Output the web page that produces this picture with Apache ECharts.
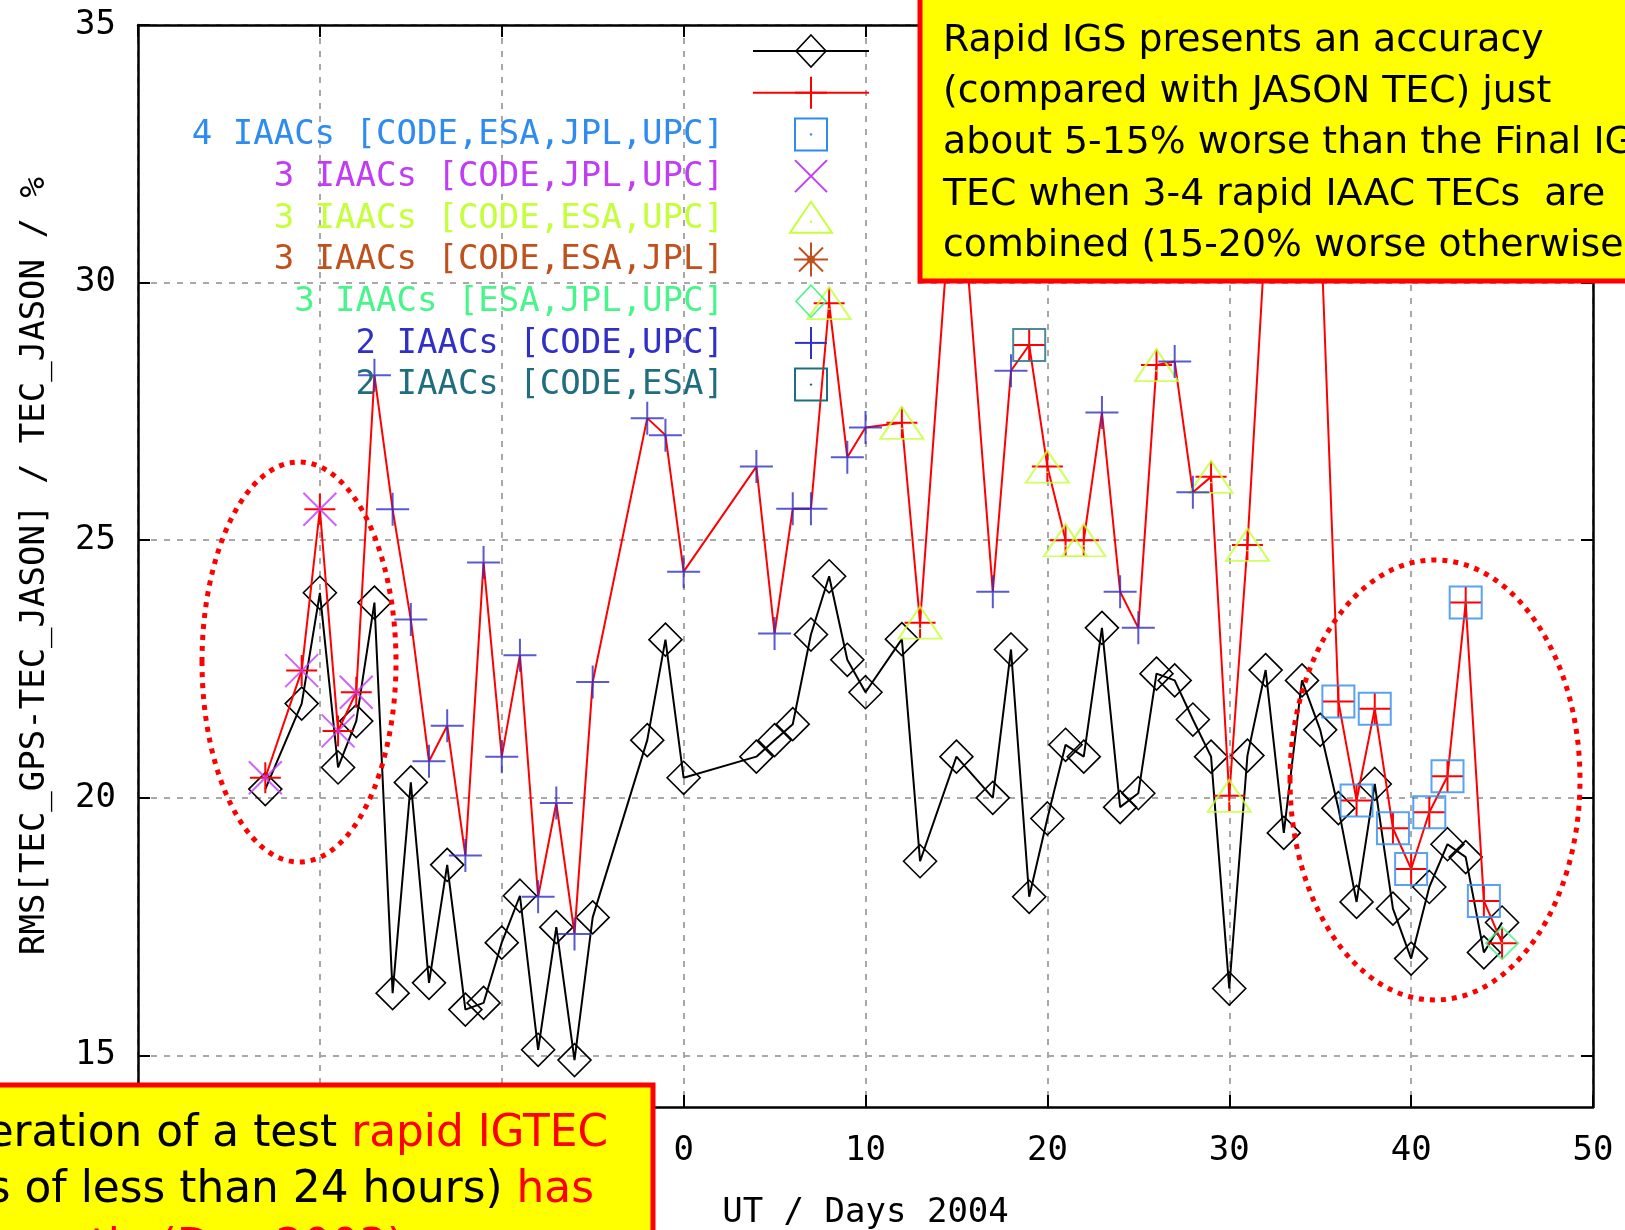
<!DOCTYPE html>
<html>
<head>
<meta charset="utf-8">
<script src="https://cdn.jsdelivr.net/npm/echarts@6/dist/echarts.min.js"></script>
<style>html,body{margin:0;padding:0;background:#fff;}#c{width:1625px;height:1230px;}</style>
</head>
<body>
<div id="c"></div>
<script>
// ---------------- data ----------------
const days = [-23,-21,-20,-19,-18,-17,-16,-15,-14,-13,-12,-11,-10,-9,-8,-7,-6,-5,-2,-1,0,
  4,5,6,7,8,9,10,12,13,15,17,18,19,20,21,22,23,24,25,26,27,28,29,30,31,32,33,34,35,
  36,37,38,39,40,41,42,43,44,45];
const finalTEC = [20.17,21.83,23.98,20.59,21.49,23.79,16.21,20.30,16.41,18.70,15.89,16.02,17.19,18.10,15.11,17.49,14.91,17.68,21.12,23.07,20.39,
  20.80,21.12,21.43,23.17,24.30,22.68,22.05,23.08,18.77,20.80,20.00,22.88,18.08,19.60,21.03,20.80,23.30,19.82,20.09,22.41,22.28,21.52,20.80,16.30,20.82,22.48,19.32,22.28,21.32,
  19.80,17.98,20.27,17.85,16.88,18.27,19.10,18.85,17.00,17.58];
const rapidTEC = [20.39,22.47,25.60,21.30,22.05,28.20,25.60,23.46,20.71,21.40,18.88,24.57,20.80,22.77,18.08,19.90,17.36,22.25,27.37,27.04,24.39,
  26.43,23.19,25.61,25.61,29.60,26.61,27.19,27.28,23.40,33.10,24.00,28.29,28.79,26.43,25.00,25.00,27.48,24.00,23.30,28.40,28.47,25.93,26.23,20.04,24.91,31.00,32.50,33.50,31.40,
  21.87,19.95,21.73,19.41,18.62,19.72,20.42,23.79,18.00,17.18];

// days on which the rapid map combined each set of IAACs
const days4All = [36,37,38,39,40,41,42,43,44];
const days3CodeJplUpc = [-23,-21,-20,-19,-18];
const days3CodeEsaUpc = [8,12,13,20,21,22,26,29,30,31];
const days3CodeEsaJpl = [];
const days3EsaJplUpc = [45];
const days2CodeUpc = [-17,-16,-15,-14,-13,-12,-11,-10,-9,-8,-7,-6,-5,-2,-1,0,4,5,6,7,9,10,17,18,23,24,25,27,28];
const days2CodeEsa = [19];

const xTickLabels = [-30,-20,-10,0,10,20,30,40,50];
const yTickLabels = [15,20,25,30,35];

const legendNames = ['', '', '4 IAACs [CODE,ESA,JPL,UPC]', '3 IAACs [CODE,JPL,UPC]', '3 IAACs [CODE,ESA,UPC]',
  '3 IAACs [CODE,ESA,JPL]', '3 IAACs [ESA,JPL,UPC]', '2 IAACs [CODE,UPC]', '2 IAACs [CODE,ESA]'];

// ---------------- styles ----------------
const C = {
  final: '#000000', rapid: '#ff0000',
  a4: '#2e8bf0', cju: '#c23cf5', ceu: '#c4ff3a', cej: '#c0501c', eju: '#48f58a', cu: '#3030c8', ce: '#1f6e80'
};
const MONO = '"DejaVu Sans Mono", "Liberation Mono", monospace';
const SANS = '"DejaVu Sans", "Noto Sans", sans-serif';

const SYM = {
  plus: 'path://M0,16L32,16M16,0L16,32',
  cross: 'path://M0,0L32,32M32,0L0,32',
  star: 'path://M0,16L32,16M16,0L16,32M4,4L28,28M28,4L4,28',
  square: 'path://M0,0L32,0L32,32L0,32ZM16,15.4L16,16.6',
  tri: 'path://M16,0L32,28L0,28ZM16,18.4L16,19.6',
  diamond: 'path://M16,0L32,16L16,32L0,16ZM16,15.4L16,16.6'
};

function pairs(arr) { return days.map((d, i) => [d, arr[i]]); }
function rapidAt(list) {
  return list.map(d => [d, rapidTEC[days.indexOf(d)]]);
}
// red "+" marks hidden where the blue "+" of the same shape sits on top
const rapidItems = days.map((d, i) => days2CodeUpc.includes(d)
  ? { value: [d, rapidTEC[i]], symbol: 'none' } : { value: [d, rapidTEC[i]] });

function markerSeries(name, list, symbol, size, color, lw) {
  return {
    name, type: 'scatter', data: rapidAt(list), symbol, symbolSize: size, z: 5,
    itemStyle: { color: 'none', borderColor: color, borderWidth: lw || 2 },
    silent: true, animation: false
  };
}

// ---------------- legend graphic ----------------
const legX = 811, legY0 = 51, legStep = 41.7, legTextRight = 724;
function icon(kind, cx, cy, color) {
  const st = { stroke: color, lineWidth: 2, fill: 'none' };
  const L = (x1, y1, x2, y2) => ({ type: 'line', shape: { x1, y1, x2, y2 }, style: st, z: 50 });
  switch (kind) {
    case 'diamond': return [{ type: 'polygon', shape: { points: [[cx, cy - 16], [cx + 15, cy], [cx, cy + 16], [cx - 15, cy]] }, style: { stroke: color, lineWidth: 1.6, fill: 'none' }, z: 50 }];
    case 'plus': return [L(cx - 16, cy, cx + 16, cy), L(cx, cy - 16, cx, cy + 16)];
    case 'cross': return [L(cx - 16, cy - 16, cx + 16, cy + 16), L(cx + 16, cy - 16, cx - 16, cy + 16)];
    case 'star': return [L(cx - 17, cy, cx + 17, cy), L(cx, cy - 17, cx, cy + 17), L(cx - 12, cy - 12, cx + 12, cy + 12), L(cx + 12, cy - 12, cx - 12, cy + 12),
      { type: 'circle', shape: { cx, cy, r: 4 }, style: { fill: color }, z: 50 }];
    case 'square': return [{ type: 'rect', shape: { x: cx - 16, y: cy - 16, width: 32, height: 32 }, style: st, z: 50 },
      { type: 'circle', shape: { cx, cy, r: 1.2 }, style: { fill: color }, z: 50 }];
    case 'tri': return [{ type: 'polygon', shape: { points: [[cx, cy - 16], [cx + 21, cy + 15], [cx - 21, cy + 15]] }, style: st, z: 50 },
      { type: 'circle', shape: { cx, cy: cy + 4, r: 1.2 }, style: { fill: color }, z: 50 }];
  }
  return [];
}
const legendKinds = [['diamond', C.final, true], ['plus', C.rapid, true], ['square', C.a4], ['cross', C.cju], ['tri', C.ceu],
  ['star', C.cej], ['diamond', C.eju], ['plus', C.cu], ['square', C.ce]];
const legendEls = [];
legendKinds.forEach((k, i) => {
  const cy = legY0 + i * legStep;
  if (k[2]) legendEls.push({ type: 'line', shape: { x1: 753, y1: cy, x2: 869, y2: cy }, style: { stroke: k[1], lineWidth: 2 }, z: 49 });
  icon(k[0], legX, cy, k[1]).forEach(e => legendEls.push(e));
  if (legendNames[i]) legendEls.push({ type: 'text', x: legTextRight, y: cy + 1, z: 50,
    style: { text: legendNames[i], fill: k[1], font: '34px ' + MONO, align: 'right', verticalAlign: 'middle' } });
});

// ---------------- annotations ----------------
const noteTR = ['Rapid IGS presents an accuracy', '(compared with JASON TEC) just', 'about 5-15% worse than the Final IGS',
  'TEC when 3-4 rapid IAAC TECs  are', 'combined (15-20% worse otherwise)'];
const annot = [
  { type: 'ellipse', shape: { cx: 299, cy: 662, rx: 97, ry: 200 }, style: { stroke: '#ff0000', lineWidth: 5, lineDash: [5, 6], fill: 'none' }, z: 60 },
  { type: 'ellipse', shape: { cx: 1435, cy: 780, rx: 145, ry: 220 }, style: { stroke: '#ff0000', lineWidth: 5, lineDash: [5, 6], fill: 'none' }, z: 60 },
  { type: 'rect', shape: { x: 920, y: -3, width: 740, height: 284 }, style: { fill: '#ffff00', stroke: '#ff0000', lineWidth: 5 }, z: 100 },
  { type: 'rect', shape: { x: -20, y: 1085, width: 673, height: 170 }, style: { fill: '#ffff00', stroke: '#ff0000', lineWidth: 5 }, z: 100 }
];
noteTR.forEach((t, i) => annot.push({ type: 'text', x: 943, y: 41 + i * 51.3, z: 101,
  style: { text: t, fill: '#000', font: '37.8px ' + SANS, align: 'left', verticalAlign: 'middle' } }));
const noteBL = [['The generation of a test {r|rapid IGTEC}', 608, 1135], ['(with latencies of less than 24 hours) {r|has}', 594, 1191],
  ['{r|been started recently (Dec 2003)}', 404, 1249]];
noteBL.forEach(n => annot.push({ type: 'text', x: n[1], y: n[2], z: 101,
  style: { text: n[0], fill: '#000', font: '43.8px ' + SANS, align: 'right', verticalAlign: 'middle',
    rich: { r: { fill: '#ff0000', font: '43.8px ' + SANS } } } }));

// ---------------- chart ----------------
const axisFont = { fontFamily: MONO, fontSize: 34, color: '#000' };
const frameLine = { show: true, onZero: false, lineStyle: { color: '#000', width: 2.5 } };
const tickIn = { show: true, inside: true, length: 12, lineStyle: { color: '#000', width: 2 } };
const gridLine = { show: true, lineStyle: { color: '#a8a8a8', width: 2, type: [6, 7] } };

const chart = echarts.init(document.getElementById('c'), null, { renderer: 'canvas' });
chart.setOption({
  animation: false,
  backgroundColor: '#fff',
  grid: { left: 138, right: 32, top: 25, bottom: 123, containLabel: false, outerBoundsMode: 'none' },
  xAxis: [
    { type: 'value', min: -30, max: 50, interval: 10, position: 'bottom',
      axisLine: frameLine, axisTick: tickIn, splitLine: gridLine,
      axisLabel: Object.assign({ margin: 27, formatter: v => xTickLabels.includes(v) ? String(v) : '' }, axisFont),
      name: 'UT / Days 2004', nameLocation: 'middle', nameGap: 89, nameTextStyle: axisFont },
    { type: 'value', min: -30, max: 50, interval: 10, position: 'top',
      axisLine: frameLine, axisTick: tickIn, splitLine: { show: false }, axisLabel: { show: false } }
  ],
  yAxis: [
    { type: 'value', min: 14, max: 35, position: 'left',
      axisLine: frameLine, axisTick: Object.assign({ customValues: yTickLabels }, tickIn), splitLine: gridLine,
      axisLabel: Object.assign({ margin: 22, customValues: yTickLabels }, axisFont),
      name: 'RMS[TEC_GPS-TEC_JASON] / TEC_JASON / %', nameLocation: 'middle', nameGap: 86, nameTextStyle: axisFont },
    { type: 'value', min: 14, max: 35, position: 'right',
      axisLine: frameLine, axisTick: Object.assign({ customValues: yTickLabels }, tickIn),
      splitLine: { show: false }, axisLabel: { show: false } }
  ],
  series: [
    { name: 'Final IGS', type: 'line', data: pairs(finalTEC), z: 3, symbol: 'diamond', symbolSize: 33,
      showAllSymbol: true, lineStyle: { color: C.final, width: 2 },
      itemStyle: { color: 'none', borderColor: C.final, borderWidth: 1.6 }, silent: true },
    { name: 'Rapid IGS', type: 'line', data: rapidItems, z: 4, symbol: SYM.plus, symbolSize: 31,
      showAllSymbol: true, lineStyle: { color: C.rapid, width: 2 },
      itemStyle: { color: 'none', borderColor: C.rapid, borderWidth: 2 }, silent: true },
    markerSeries('4 IAACs [CODE,ESA,JPL,UPC]', days4All, SYM.square, 32, C.a4),
    markerSeries('3 IAACs [CODE,JPL,UPC]', days3CodeJplUpc, SYM.cross, 33, C.cju),
    markerSeries('3 IAACs [CODE,ESA,UPC]', days3CodeEsaUpc, SYM.tri, [43, 32], C.ceu),
    markerSeries('3 IAACs [CODE,ESA,JPL]', days3CodeEsaJpl, SYM.star, 34, C.cej),
    markerSeries('3 IAACs [ESA,JPL,UPC]', days3EsaJplUpc, SYM.diamond, 32, C.eju),
    markerSeries('2 IAACs [CODE,UPC]', days2CodeUpc, SYM.plus, 33, C.cu),
    markerSeries('2 IAACs [CODE,ESA]', days2CodeEsa, SYM.square, 32, C.ce)
  ],
  graphic: { elements: legendEls.concat(annot) }
});
</script>
</body>
</html>
